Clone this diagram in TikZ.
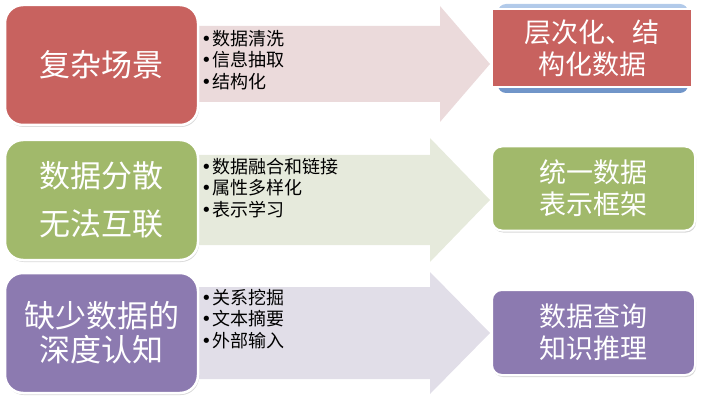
\documentclass[tikz,border=0pt]{standalone}
\usepackage{fontspec}
\setmainfont{Noto Sans CJK SC}
\newfontfamily\zeichen{DejaVu Sans}
\usetikzlibrary{shadows}
\definecolor{rot}{HTML}{C8625F}
\definecolor{gruen}{HTML}{A1B96B}
\definecolor{lila}{HTML}{8C7AB0}
\definecolor{rotblass}{HTML}{EBDADB}
\definecolor{gruenblass}{HTML}{E6EADC}
\definecolor{lilablass}{HTML}{E1DEE8}
\definecolor{blauhell}{HTML}{B3CBEA}
\definecolor{blau}{HTML}{6F94C8}
\newcommand{\pkt}{{\zeichen •}\hspace{1pt}}
\tikzset{%
		schatten/.style={drop shadow={opacity=.3,shadow xshift=1pt,shadow yshift=-2pt}},
		kasten/.style={draw=white,line width=2.5pt,rounded corners=18pt,minimum width=193pt,minimum height=120pt,inner sep=0pt,text=white,align=center,font=\fontsize{31}{34}\selectfont,schatten},
		ziel/.style={draw=white,line width=2pt,rounded corners=10pt,minimum width=203pt,minimum height=84pt,inner sep=0pt,text=white,align=center,font=\fontsize{27}{32}\selectfont},
		punkte/.style={anchor=north west,inner sep=0pt,align=left,font=\fontsize{18}{21.5}\selectfont}
	}
\newcommand{\pfeil}[5]{
		\begin{scope}[shift={(0,#1)}]
			\fill[#5] (190,-#2) -- (#4,-#2) -- (#4,-#3) -- (490,0) -- (#4,#3) -- (#4,#2) -- (190,#2) -- cycle ;
		\end{scope}
		}
\begin{document}
\begin{tikzpicture}[x=1pt,y=-1pt]
    \useasboundingbox (0,0) rectangle (704,401) ;
    % Zeile 1
    \pfeil{64}{38}{58}{440}{rotblass}
    \node[kasten,fill=rot] (szene) at (101.5,65) {复杂场景} ;
    \node[punkte] (liste1) at (201,30) {\pkt 数据清洗\\\pkt 信息抽取\\\pkt 结构化} ;
    \shade[top color=blauhell,bottom color=blau,rounded corners=8pt] (498,4) rectangle (688,93) ;
    \node[ziel,rounded corners=0pt,minimum width=200pt,minimum height=78pt,fill=rot] (struktur) at (592,48.5) {层次化、结\\构化数据} ;
    % Zeile 2
    \pfeil{200}{45}{62}{430}{gruenblass}
    \node[kasten,fill=gruen] (streuung) at (101.5,200) {数据分散\\[14pt]无法互联} ;
    \node[punkte] (liste2) at (201,158) {\pkt 数据融合和链接\\\pkt 属性多样化\\\pkt 表示学习} ;
    \node[ziel,schatten,fill=gruen] (rahmen) at (593.5,188.5) {统一数据\\表示框架} ;
    % Zeile 3
    \pfeil{333}{46}{61}{430}{lilablass}
    \node[kasten,fill=lila] (kognition) at (101.5,333) {缺少数据的\\深度认知} ;
    \node[punkte] (liste3) at (201,289) {\pkt 关系挖掘\\\pkt 文本摘要\\\pkt 外部输入} ;
    \node[ziel,schatten,minimum height=85pt,fill=lila] (schluss) at (593.5,332.5) {数据查询\\知识推理} ;
\end{tikzpicture}
\end{document}
